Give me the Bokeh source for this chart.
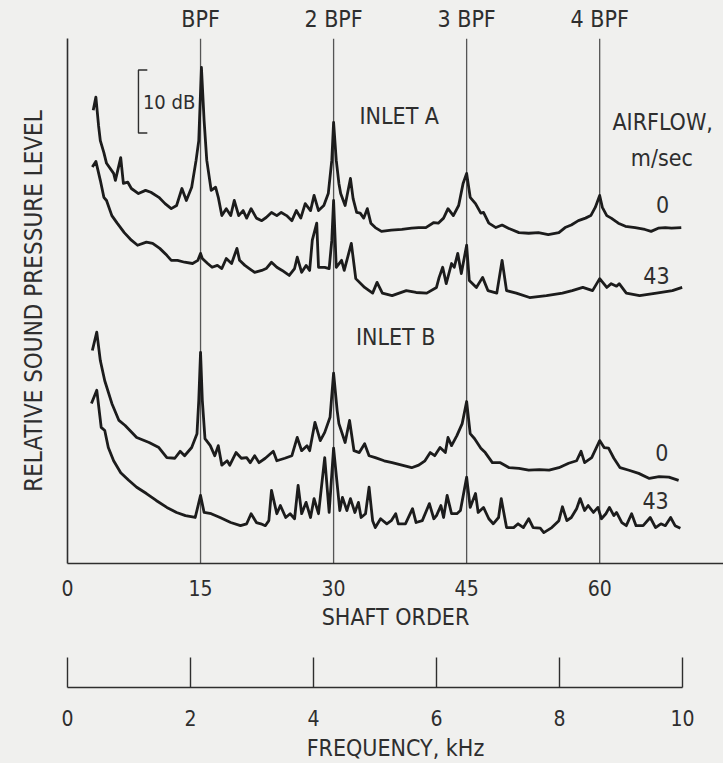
from bokeh.plotting import figure
from bokeh.models import Range1d, Span, Label, FixedTicker, LinearAxis
from bokeh.layouts import column
from bokeh.embed import file_html
from bokeh.resources import INLINE

FONT = "DejaVu Sans Condensed, Roboto"
BG = "#f0f0ee"
INK = "#1c1c1c"
TXT = "#2e2e2e"

# ---------------- data ----------------
harmonics = [15, 30, 45, 60]
harmonic_labels = ["BPF", "2 BPF", "3 BPF", "4 BPF"]
shaft_ticks = [0, 15, 30, 45, 60]
freq_ticks = [0, 2, 4, 6, 8, 10]
airflow_labels = ["0", "43"]
scale_bar_db = 10
scale_bar_base = 68.3

# Inlet A, airflow 0 m/s
a0_order = [2.9, 3.2, 3.5, 3.7, 4.1, 4.4, 5.2, 5.4, 6.0, 6.3, 6.8, 7.2, 8.0, 8.8, 9.4, 10.3, 11.0, 11.7,
            12.3, 12.9, 13.4, 14.0, 14.5, 14.8, 15.1, 15.4, 15.7, 16.2, 16.7, 17.0, 17.4, 17.9, 18.4,
            18.8, 19.3, 19.8, 20.2, 20.7, 21.3, 21.9, 22.4, 23.0, 23.6, 24.1, 24.7, 25.3, 25.8, 26.3,
            26.8, 27.4, 27.8, 28.3, 28.9, 29.4, 29.8, 30.0, 30.3, 30.6, 30.8, 31.3, 31.9, 32.2, 32.6,
            33.0, 33.4, 33.8, 34.2, 34.7, 35.4, 36.5, 37.7, 38.8, 39.6, 40.4, 41.3, 41.8, 42.4, 42.9,
            43.5, 44.1, 44.6, 45.0, 45.4, 46.0, 46.6, 46.9, 47.5, 48.3, 49.0, 49.7, 50.9, 52.0, 53.1,
            54.2, 55.4, 56.1, 56.8, 57.6, 58.4, 59.0, 59.5, 60.0, 60.3, 60.8, 61.3, 62.1, 62.9, 64.0,
            65.1, 65.8, 66.6, 67.4, 68.1, 69.2]
a0_db = [71.9, 74.0, 69.5, 67.1, 65.2, 63.5, 61.9, 60.8, 64.4, 60.3, 60.5, 59.5, 58.7, 59.2, 58.9, 58.1,
         57.1, 56.3, 56.8, 59.5, 57.6, 59.7, 64.0, 67.1, 78.7, 70.3, 64.0, 59.2, 59.7, 58.1, 55.2, 56.3,
         55.2, 57.6, 55.2, 56.0, 54.8, 56.3, 54.8, 54.4, 54.9, 55.7, 55.2, 55.7, 55.2, 54.4, 56.0, 54.8,
         57.1, 56.0, 58.4, 56.0, 56.8, 58.7, 64.0, 70.0, 64.0, 60.3, 58.7, 56.8, 61.1, 57.9, 55.7, 55.6,
         54.8, 56.3, 54.0, 53.3, 52.7, 52.9, 53.0, 53.2, 53.3, 53.3, 54.1, 54.0, 54.8, 56.3, 55.2, 56.8,
         60.3, 61.9, 58.1, 57.1, 55.6, 55.7, 54.0, 53.3, 53.7, 53.2, 52.5, 52.4, 52.5, 52.2, 52.5, 53.3,
         53.7, 54.4, 54.8, 55.2, 56.5, 58.4, 56.5, 55.2, 54.8, 54.0, 53.5, 53.3, 53.0, 52.7, 53.2, 53.3,
         53.2, 53.3]

# Inlet A, airflow 43 m/s
a43_order = [2.8, 3.2, 3.7, 4.1, 4.4, 5.0, 5.6, 6.4, 7.2, 7.9, 8.9, 9.6, 10.4, 11.2, 11.7, 12.4, 13.2,
             14.1, 14.7, 15.0, 15.2, 15.8, 16.3, 16.9, 17.4, 17.9, 18.5, 19.1, 19.4, 20.0, 20.5, 21.1,
             21.9, 22.4, 23.0, 23.6, 24.2, 25.0, 25.6, 25.9, 26.4, 26.9, 27.3, 27.6, 28.1, 28.3, 29.0,
             29.5, 29.8, 30.0, 30.3, 30.9, 31.2, 32.0, 32.5, 33.5, 34.4, 34.9, 35.5, 36.6, 38.2, 39.3,
             40.5, 41.6, 41.9, 42.3, 42.7, 43.3, 43.6, 44.0, 44.4, 45.0, 45.3, 46.1, 46.8, 47.4, 48.4,
             49.0, 49.5, 50.6, 52.1, 54.0, 55.8, 56.9, 58.1, 59.2, 60.0, 60.8, 61.3, 61.9, 62.2, 63.0,
             64.5, 66.4, 68.2, 69.3]
a43_db = [62.9, 63.8, 60.8, 58.1, 57.6, 55.2, 54.0, 52.5, 51.3, 50.5, 51.0, 50.8, 50.0, 48.9, 48.1, 48.1,
          47.8, 47.6, 48.1, 49.2, 48.4, 47.6, 47.0, 47.3, 46.8, 48.4, 47.6, 50.0, 48.1, 47.3, 46.8, 46.2,
          46.5, 46.8, 47.8, 47.0, 46.5, 45.7, 46.8, 48.6, 46.2, 47.3, 46.5, 51.3, 54.0, 47.0, 47.0, 46.8,
          51.3, 57.6, 47.0, 48.1, 46.5, 50.8, 45.2, 43.8, 42.9, 44.6, 42.9, 42.5, 43.3, 43.0, 42.9, 43.8,
          45.4, 47.0, 44.4, 47.6, 47.0, 49.2, 46.0, 50.5, 44.9, 43.8, 45.4, 43.3, 42.9, 48.1, 43.3, 42.9,
          42.2, 42.5, 42.9, 43.3, 43.8, 43.3, 45.2, 43.8, 44.4, 44.0, 44.4, 42.9, 42.5, 42.9, 43.3, 43.8]

# Inlet B, airflow 0 m/s
b0_order = [2.8, 3.3, 3.7, 4.2, 5.0, 5.8, 6.5, 7.8, 9.2, 10.3, 11.2, 12.1, 12.7, 13.2, 14.0, 14.6, 14.8,
            15.0, 15.2, 15.5, 16.1, 16.6, 17.0, 17.4, 18.0, 18.3, 19.0, 19.6, 20.2, 20.6, 21.1, 21.6,
            22.3, 23.2, 23.6, 24.5, 25.3, 25.9, 26.4, 27.0, 27.3, 27.9, 28.5, 29.0, 29.6, 30.0, 30.4,
            30.6, 31.3, 31.8, 32.3, 32.9, 33.5, 34.0, 34.7, 35.7, 36.6, 37.7, 38.8, 39.6, 40.3, 40.9,
            41.4, 42.0, 42.6, 42.9, 43.3, 43.9, 44.5, 45.0, 45.4, 45.9, 46.6, 47.1, 47.9, 48.8, 49.8,
            50.9, 52.0, 53.2, 54.3, 55.4, 56.5, 57.4, 57.9, 58.3, 59.1, 60.0, 60.5, 61.0, 61.6, 62.3,
            63.3, 64.4, 65.6, 66.7, 67.8, 68.9]
b0_db = [33.8, 36.7, 32.2, 29.0, 25.4, 22.7, 21.9, 20.0, 19.2, 18.4, 16.8, 16.7, 17.8, 17.1, 18.4, 20.6,
         25.9, 33.5, 25.9, 19.8, 18.7, 17.1, 18.7, 15.6, 16.3, 15.6, 17.6, 16.7, 16.8, 16.0, 17.1, 16.0,
         16.7, 17.8, 16.3, 16.7, 17.1, 20.0, 17.9, 18.7, 17.9, 22.4, 19.5, 20.8, 23.2, 30.2, 24.3, 22.2,
         19.2, 22.7, 17.9, 17.6, 19.0, 17.1, 16.8, 16.3, 16.0, 15.6, 15.2, 15.6, 16.3, 17.6, 17.1, 18.4,
         17.6, 20.0, 18.7, 20.3, 22.2, 25.7, 20.6, 19.8, 18.3, 17.6, 16.0, 16.0, 15.2, 15.1, 14.8, 14.9,
         14.8, 15.2, 15.9, 16.3, 17.8, 16.0, 16.8, 19.5, 18.4, 18.3, 16.7, 15.2, 14.8, 14.3, 13.5, 13.8,
         13.7, 13.2]

# Inlet B, airflow 43 m/s
b43_order = [2.7, 3.3, 3.8, 4.2, 4.6, 5.2, 6.0, 6.9, 7.8, 8.9, 10.0, 11.2, 12.3, 13.3, 14.4, 15.0, 15.4,
             16.2, 17.2, 18.4, 19.5, 20.2, 20.7, 21.3, 21.8, 22.3, 22.7, 23.0, 23.6, 24.0, 24.6, 25.1,
             25.6, 26.0, 26.4, 26.9, 27.4, 27.8, 28.3, 29.0, 29.5, 30.0, 30.7, 31.0, 31.5, 31.9, 32.4,
             32.8, 33.1, 33.6, 34.0, 34.4, 34.7, 35.3, 36.0, 36.5, 37.0, 37.3, 38.1, 38.9, 39.3, 40.0,
             40.8, 41.3, 41.6, 42.1, 42.4, 42.8, 43.3, 43.9, 44.3, 45.0, 45.4, 46.0, 46.3, 46.9, 47.5,
             48.0, 48.6, 48.9, 49.5, 50.3, 50.8, 51.4, 52.0, 52.5, 53.3, 53.7, 54.6, 55.4, 55.8, 56.3,
             56.8, 57.4, 57.8, 58.3, 58.7, 59.3, 59.8, 60.2, 60.7, 61.1, 61.6, 61.9, 62.5, 63.0, 63.6,
             64.1, 64.9, 65.7, 66.3, 66.9, 67.4, 68.0, 68.5, 69.1]
b43_db = [25.4, 27.5, 21.6, 21.1, 18.4, 16.3, 14.4, 13.2, 12.1, 11.1, 10.0, 8.9, 8.1, 7.6, 7.3, 10.8, 8.1,
          7.9, 7.3, 6.5, 6.0, 6.3, 7.9, 6.5, 6.3, 6.0, 6.8, 11.6, 7.9, 9.2, 7.3, 7.9, 7.1, 12.4, 7.9, 9.7,
          7.3, 10.3, 7.9, 16.8, 8.1, 18.3, 8.4, 10.5, 8.4, 10.3, 8.1, 9.7, 7.3, 7.9, 12.1, 6.8, 5.7, 7.1,
          6.3, 6.8, 7.9, 6.3, 6.3, 8.7, 6.5, 6.8, 9.5, 7.1, 7.6, 9.2, 7.3, 10.8, 7.9, 7.9, 8.4, 13.7, 8.9,
          11.1, 8.1, 8.9, 7.1, 6.3, 7.3, 10.3, 5.7, 5.7, 6.3, 5.7, 7.1, 5.7, 5.6, 4.9, 5.7, 6.8, 9.0, 6.8,
          7.3, 8.7, 10.3, 8.4, 9.2, 8.1, 8.9, 7.1, 7.9, 8.9, 7.6, 8.1, 6.5, 6.0, 7.9, 6.0, 6.0, 7.3, 5.7,
          6.3, 6.0, 7.3, 6.0, 5.6]

curves = [(a0_order, a0_db), (a43_order, a43_db), (b0_order, b0_db), (b43_order, b43_db)]

# ---------------- main plot ----------------
p = figure(width=723, height=643, x_range=Range1d(0, 73.96), y_range=Range1d(0, 83.3),
           output_backend="svg", toolbar_location=None,
           min_border_left=67, min_border_right=0, min_border_top=38, min_border_bottom=80,
           background_fill_color=BG, border_fill_color=BG, outline_line_color=None)
p.grid.visible = False

xa = p.xaxis[0]
xa.ticker = FixedTicker(ticks=shaft_ticks)
xa.major_tick_in = 0
xa.major_tick_out = 0
xa.minor_tick_in = 0
xa.minor_tick_out = 0
xa.axis_line_color = TXT
xa.axis_line_width = 1.6
xa.major_label_text_font = FONT
xa.major_label_text_font_size = "21px"
xa.major_label_text_color = TXT
xa.major_label_standoff = 16
xa.axis_label = "SHAFT ORDER"
xa.axis_label_text_font = FONT
xa.axis_label_text_font_size = "23px"
xa.axis_label_text_font_style = "normal"
xa.axis_label_text_color = TXT
xa.axis_label_standoff = 5

ya = p.yaxis[0]
ya.ticker = FixedTicker(ticks=[])
ya.major_tick_in = 0
ya.major_tick_out = 0
ya.minor_tick_in = 0
ya.minor_tick_out = 0
ya.axis_line_color = TXT
ya.axis_line_width = 1.6
ya.axis_label = "RELATIVE SOUND PRESSURE LEVEL"
ya.axis_label_text_font = FONT
ya.axis_label_text_font_size = "24px"
ya.axis_label_text_font_style = "normal"
ya.axis_label_text_color = TXT
ya.axis_label_standoff = 20

# harmonic labels as an axis above the frame
top = LinearAxis(ticker=FixedTicker(ticks=harmonics),
                 major_label_overrides={h: lab for h, lab in zip(harmonics, harmonic_labels)})
top.axis_line_color = None
top.major_tick_line_color = None
top.minor_tick_line_color = None
top.major_label_text_font = FONT
top.major_label_text_font_size = "23px"
top.major_label_text_color = TXT
top.major_label_standoff = 1
p.add_layout(top, "above")

for h in harmonics:
    p.add_layout(Span(location=h, dimension="height", line_color="#555555", line_width=1.3,
                      level="underlay"))

for xs, ys in curves:
    p.line(xs, ys, line_color=INK, line_width=2.8, line_join="round")

# 10 dB scale bar
p.line([9.0, 8.0, 8.0, 9.0],
       [scale_bar_base, scale_bar_base, scale_bar_base + scale_bar_db, scale_bar_base + scale_bar_db],
       line_color=TXT, line_width=1.4)
p.add_layout(Label(x=8.5, y=scale_bar_base + scale_bar_db / 2, text=f"{scale_bar_db} dB",
                   text_align="left", text_baseline="middle", text_font=FONT,
                   text_font_size="20px", text_color=TXT))

texts = [
    ("INLET A", 37.4, 71.0),
    ("AIRFLOW,", 67.1, 70.0),
    ("m/sec", 67.0, 64.4),
    (airflow_labels[0], 67.1, 57.0),
    (airflow_labels[1], 66.4, 45.7),
    ("INLET B", 37.0, 35.9),
    (airflow_labels[0], 67.0, 17.6),
    (airflow_labels[1], 66.3, 10.0),
]
for t, x, y in texts:
    p.add_layout(Label(x=x, y=y, text=t, text_align="center", text_baseline="middle",
                       text_font=FONT, text_font_size="23px", text_color=TXT))

# ---------------- frequency axis ----------------
q = figure(width=723, height=120, x_range=Range1d(0, 10.667), y_range=Range1d(0, 1),
           output_backend="svg", toolbar_location=None, y_axis_location=None,
           min_border_left=67, min_border_right=0, min_border_top=0, min_border_bottom=76,
           background_fill_color=BG, border_fill_color=BG, outline_line_color=None)
q.grid.visible = False
fa = q.xaxis[0]
fa.bounds = (freq_ticks[0], freq_ticks[-1])
fa.ticker = FixedTicker(ticks=freq_ticks)
fa.major_tick_in = 30
fa.major_tick_out = 0
fa.minor_tick_in = 0
fa.minor_tick_out = 0
fa.major_tick_line_color = TXT
fa.major_tick_line_width = 1.4
fa.axis_line_color = TXT
fa.axis_line_width = 1.6
fa.major_label_text_font = FONT
fa.major_label_text_font_size = "21px"
fa.major_label_text_color = TXT
fa.major_label_standoff = 22
fa.axis_label = "FREQUENCY, kHz"
fa.axis_label_text_font = FONT
fa.axis_label_text_font_size = "23px"
fa.axis_label_text_font_style = "normal"
fa.axis_label_text_color = TXT
fa.axis_label_standoff = 6

layout = column(p, q, spacing=0, styles={"background-color": BG})
open("out.html", "w").write(file_html(layout, INLINE))
